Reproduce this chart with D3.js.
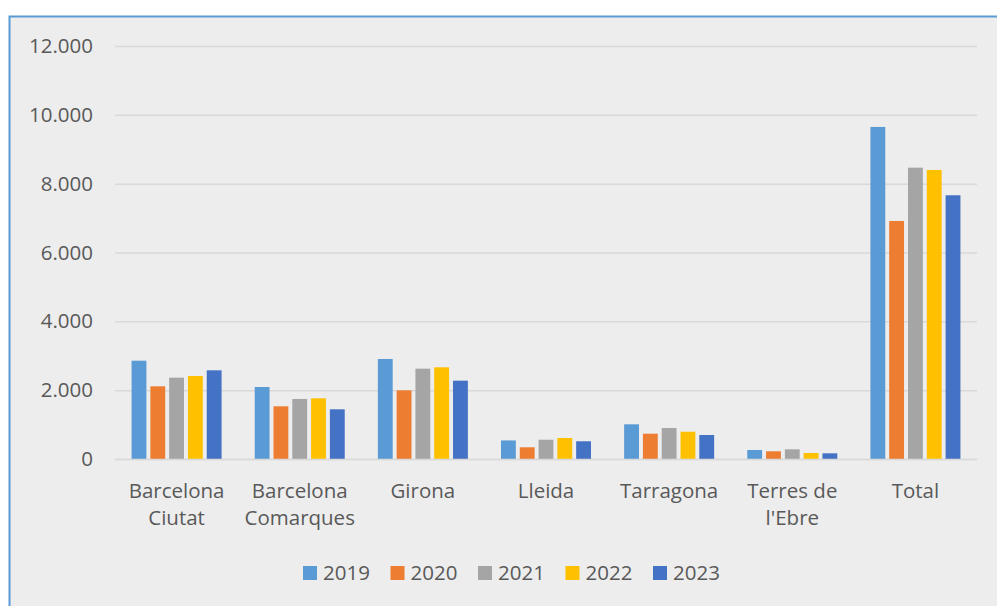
<!DOCTYPE html>
<html><head><meta charset="utf-8">
<script src="https://cdn.jsdelivr.net/npm/d3@7"></script>
<style>body{margin:0;background:#fff;} text{font-family:"Open Sans","Noto Sans",sans-serif;}</style>
</head><body>
<svg id="c" width="997" height="606"></svg>
<script>
const categories = [["Barcelona","Ciutat"],["Barcelona","Comarques"],["Girona"],["Lleida"],["Tarragona"],["Terres de","l'Ebre"],["Total"]];
const years = ["2019","2020","2021","2022","2023"];
const v2019 = [2856, 2092, 2906, 540, 1008, 262, 9648];
const v2020 = [2112, 1531, 1996, 340, 735, 224, 6916];
const v2021 = [2363, 1744, 2624, 560, 900, 282, 8465];
const v2022 = [2412, 1763, 2664, 610, 793, 174, 8398];
const v2023 = [2577, 1444, 2276, 515, 697, 165, 7663];
const yTicks = [0, 2000, 4000, 6000, 8000, 10000, 12000];
const colors = ["#5B9BD5","#ED7D31","#A5A5A5","#FFC000","#4472C4"];
const series = [v2019, v2020, v2021, v2022, v2023];

(function(){
const FS = 20.5;
const svg = d3.select("#c");
svg.append("rect").attr("x",9.5).attr("y",16.5).attr("width",1000).attr("height",600)
  .attr("fill","#EDEDED").attr("stroke","#5B9BD5").attr("stroke-width",2);

const pl = 115, pr = 977, pt = 46, pb = 459;
const y = d3.scaleLinear().domain([0,12000]).range([pb, pt]);
const x0 = d3.scaleBand().domain(d3.range(categories.length)).range([pl,pr]).paddingInner(0.269).paddingOuter(0.1345);
const x1 = d3.scaleBand().domain(d3.range(years.length)).range([0,x0.bandwidth()]).paddingInner(0.21).paddingOuter(0);

const fmt = d => d3.format(",")(d).replace(/,/g,".");
const yAxis = d3.axisLeft(y).tickValues(yTicks).tickSize(-(pr-pl)).tickFormat(fmt);
const ga = svg.append("g").attr("transform",`translate(${pl},0)`).call(yAxis);
ga.select(".domain").remove();
ga.selectAll(".tick line").attr("stroke","#D9D9D9").attr("stroke-width",1.5);
ga.selectAll(".tick text").attr("x",-22).attr("fill","#595959").attr("font-size",FS).style("font-family","'Open Sans','Noto Sans',sans-serif");

const g = svg.append("g");
series.forEach((s,si)=>{
  g.selectAll(null).data(s).enter().append("rect")
    .attr("x",(d,i)=>x0(i)+x1(si)).attr("width",x1.bandwidth())
    .attr("y",d=>y(d)).attr("height",d=>pb-y(d))
    .attr("fill",colors[si]);
});

const xa = d3.axisBottom(x0).tickSize(0).tickFormat("");
const gx = svg.append("g").attr("transform",`translate(0,${pb})`).call(xa);
gx.select(".domain").attr("stroke","#D9D9D9").attr("stroke-width",1.5);
categories.forEach((lines,i)=>{
  const cx = x0(i)+x0.bandwidth()/2;
  const t = svg.append("text").attr("x",cx).attr("y",497.5)
    .attr("text-anchor","middle").attr("fill","#595959").attr("font-size",FS);
  lines.forEach((l,li)=>t.append("tspan").attr("x",cx).attr("dy",li?27:0).text(l));
});

const lg = svg.append("g");
years.forEach((yr,i)=>{
  const lx = 303 + i*87.5;
  lg.append("rect").attr("x",lx).attr("y",566).attr("width",14).attr("height",14).attr("fill",colors[i]);
  lg.append("text").attr("x",lx+20).attr("y",580).attr("fill","#595959").attr("font-size",FS).text(yr);
});
})();
</script>
</body></html>
